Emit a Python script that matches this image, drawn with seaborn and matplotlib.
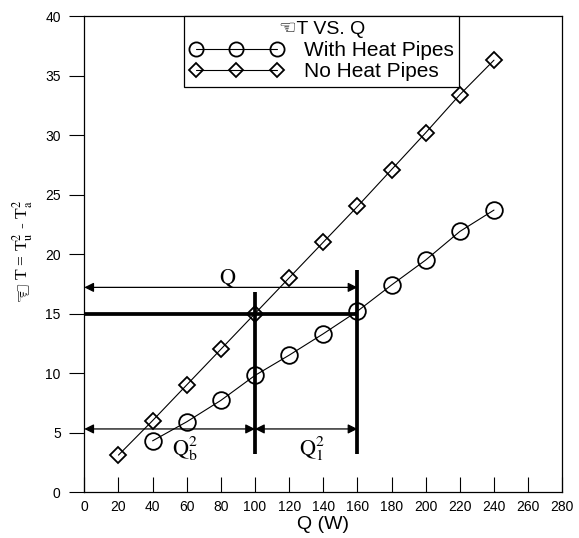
import matplotlib
matplotlib.use("Agg")
import matplotlib.pyplot as plt
import seaborn as sns

# Heating power Q (W) and temperature rise for the two configurations
q_with = [40, 60, 80, 100, 120, 140, 160, 180, 200, 220, 240]
dt_with = [4.3, 5.9, 7.7, 9.8, 11.5, 13.3, 15.2, 17.4, 19.5, 21.9, 23.7]
q_none = [20, 40, 60, 80, 100, 120, 140, 160, 180, 200, 220, 240]
dt_none = [3.1, 6.0, 9.0, 12.0, 15.0, 18.0, 21.0, 24.0, 27.1, 30.2, 33.4, 36.3]

x_ticks = list(range(0, 281, 20))
y_ticks = list(range(0, 41, 5))

# Operating-point construction at dT = 15
dt_ref = 15
q_b = 100
q_1 = 160

sns.set_style("ticks")
plt.rcParams["font.family"] = ["Liberation Sans", "DejaVu Sans"]
plt.rcParams["mathtext.fontset"] = "stix"
for key in ("text.color", "axes.labelcolor", "xtick.color", "ytick.color",
            "xtick.labelcolor", "ytick.labelcolor"):
    plt.rcParams[key] = "black"

fig = plt.figure(figsize=(5.79, 5.38), dpi=100)
ax = fig.add_axes([0.1456, 0.0855, 0.8255, 0.8845])

common = dict(color="black", linewidth=0.8, markerfacecolor="none",
              markeredgecolor="black", markeredgewidth=1.3, ax=ax)
sns.lineplot(x=q_with, y=dt_with, marker="o", markersize=12,
             label="With Heat Pipes", **common)
sns.lineplot(x=q_none, y=dt_none, marker="D", markersize=8.5,
             label="No Heat Pipes", **common)

ax.set_xlim(0, 280)
ax.set_ylim(0, 40)
ax.set_xticks(x_ticks)
ax.set_yticks(y_ticks)
ax.tick_params(axis="x", direction="in", length=11, width=0.8, labelsize=10,
               pad=6, colors="black")
ax.tick_params(axis="y", direction="out", length=11, width=0.8, labelsize=10,
               pad=6, colors="black")
for s in ax.spines.values():
    s.set_visible(True)
    s.set_linewidth(0.9)
    s.set_color("black")

ax.set_xlabel("Q (W)", fontsize=14, labelpad=1, color="black")

# y label: pointing-hand glyph followed by the temperature expression
y_split = 1 - 280 / 538
x_lab = 23 / 579
fig.text(x_lab, y_split, "☜", rotation=90, ha="center", va="top",
         fontsize=17, family=["DejaVu Sans"], color="black")
fig.text(x_lab, y_split, "T = T$_\\mathrm{u}^2$ - T$_\\mathrm{a}^2$", rotation=90,
         ha="center", va="bottom", fontsize=12.5,
         family=["Liberation Serif", "DejaVu Serif"], color="black")

# Thick construction lines
thick = dict(color="black", linewidth=2.7, solid_capstyle="butt")
ax.plot([0, q_1], [dt_ref, dt_ref], **thick)
ax.plot([q_b, q_b], [3.2, 16.8], **thick)
ax.plot([q_1, q_1], [3.2, 18.7], **thick)

# Dimension arrows
arrow = dict(arrowstyle="<|-|>", color="black", lw=0.9, mutation_scale=14,
             shrinkA=0, shrinkB=0)
ax.annotate("", xy=(0, 17.2), xytext=(q_1, 17.2), arrowprops=arrow)
ax.annotate("", xy=(0, 5.3), xytext=(q_b, 5.3), arrowprops=arrow)
ax.annotate("", xy=(q_b, 5.3), xytext=(q_1, 5.3), arrowprops=arrow)

ax.text(84, 17.95, "$\\mathrm{Q}$", fontsize=16, ha="center", va="center")
ax.text(59, 3.6, "$\\mathrm{Q}_\\mathrm{b}^2$", fontsize=16, ha="center", va="center")
ax.text(133.5, 3.6, "$\\mathrm{Q}_1^2$", fontsize=16, ha="center", va="center")

leg = ax.legend(title="☜T VS. Q", loc="upper center", bbox_to_anchor=(0.4966, 1.0),
                numpoints=3, handlelength=4.5, handletextpad=1.0, fontsize=15,
                title_fontsize=14, frameon=True, fancybox=False, framealpha=1,
                edgecolor="black", borderaxespad=0, borderpad=0.25,
                labelspacing=0.12, markerscale=0.85)
leg.get_frame().set_linewidth(0.9)
leg.get_title().set_family(["Liberation Sans", "DejaVu Sans"])
leg.get_title().set_color("black")
for t in leg.get_texts():
    t.set_color("black")

fig.savefig("out.png", dpi=100)
